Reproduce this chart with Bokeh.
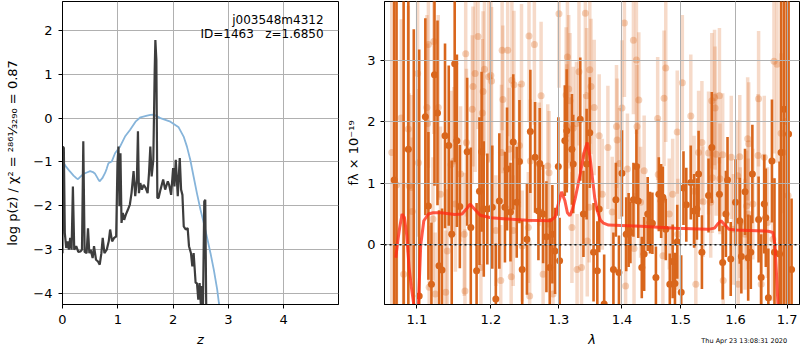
import numpy as np
from bokeh.plotting import figure
from bokeh.layouts import row
from bokeh.models import (Range1d, FixedTicker, PrintfTickFormatter, Label,
                          ColumnDataSource, Span)
from bokeh.core.properties import value
from bokeh.embed import file_html
from bokeh.resources import INLINE

FONT = "DejaVu Sans"

# ---------------- left panel data: log p(z) and scaled chi2 ----------------
pz_z = [0.000, 0.006, 0.024, 0.042, 0.067, 0.091, 0.115, 0.139, 0.164, 0.188,
        0.212, 0.248, 0.285, 0.327, 0.352, 0.376, 0.400, 0.436, 0.461, 0.485,
        0.509, 0.545, 0.570, 0.606, 0.642, 0.673, 0.703, 0.727, 0.758, 0.800,
        0.836, 0.861, 0.897, 0.933, 0.970, 0.994, 1.012, 1.030, 1.048, 1.067,
        1.091, 1.115, 1.145, 1.182, 1.218, 1.248, 1.285, 1.315, 1.345, 1.364,
        1.382, 1.406, 1.436, 1.467, 1.503, 1.539, 1.564, 1.588, 1.612, 1.642,
        1.667, 1.679, 1.697, 1.715, 1.737, 1.772, 1.820, 1.856, 1.904, 1.928,
        1.964, 2.000, 2.024, 2.048, 2.084, 2.120, 2.144, 2.168, 2.192, 2.228,
        2.263, 2.287, 2.323, 2.347, 2.371, 2.407, 2.431, 2.455, 2.479, 2.503,
        2.521, 2.539, 2.563, 2.581, 2.599, 2.623, 2.700, 3.000]
pz_logp = [-3.08, -0.65, -0.68, -2.62, -2.96, -2.81, -3.00, -2.73, -3.00, -1.56,
           -3.00, -2.92, -3.05, -3.04, -3.00, -0.53, -3.05, -3.08, -2.51, -3.08,
           -3.00, -3.19, -2.92, -3.23, -3.27, -3.34, -3.08, -2.73, -3.08, -3.00,
           -2.81, -2.54, -2.81, -2.73, -2.70, -1.03, -0.65, -2.01, -0.80, -2.39,
           -2.16, -2.32, -2.20, -2.09, -1.97, -1.71, -1.21, -1.78, -1.40, -0.30,
           -1.71, -1.48, -1.63, -1.52, -1.59, -1.71, -1.25, -0.65, -1.33, -0.95,
           1.10, 1.78, 1.33, -1.82, -1.82, -1.63, -1.40, -1.63, -1.44, -1.52,
           -1.75, -1.14, -1.56, -0.95, -1.78, -0.91, -1.63, -1.75, -2.47, -2.54,
           -2.51, -2.92, -3.08, -3.38, -3.08, -3.76, -3.76, -4.14, -3.76, -4.29,
           -3.83, -4.37, -1.90, -1.86, -4.37, -4.97, -6.00, -9.00]

chi_z = [0.00, 0.06, 0.13, 0.20, 0.25, 0.28, 0.33, 0.38, 0.44, 0.50,
         0.55, 0.59, 0.64, 0.67, 0.72, 0.77, 0.80, 0.83, 0.89, 0.95,
         1.04, 1.13, 1.22, 1.32, 1.41, 1.53, 1.59, 1.65, 1.77, 1.95,
         2.10, 2.19, 2.25, 2.31, 2.37, 2.43, 2.495, 2.555, 2.615, 2.676,
         2.736, 2.797, 2.827, 3.00]
chi_val = [-0.99, -1.10, -1.21, -1.31, -1.37, -1.39, -1.33, -1.27, -1.24, -1.21,
           -1.23, -1.27, -1.38, -1.44, -1.37, -1.25, -1.15, -1.03, -0.99, -0.80,
           -0.65, -0.42, -0.27, -0.08, 0.02, 0.06, 0.075, 0.08, 0.00, -0.08,
           -0.21, -0.42, -0.65, -0.95, -1.33, -1.71, -2.09, -2.39, -2.73, -3.08,
           -3.46, -3.91, -4.21, -5.60]

left_xticks = [0, 1, 2, 3, 4]
left_yticks = [-4, -3, -2, -1, 0, 1, 2]
obj_name = "j003548m4312"
obj_info = "ID=1463\u00a0\u00a0\u00a0z=1.6850"
left_ylabel = "log p(z) / \u03c7\u00b2 = \u00b2\u2078\u2076\u00b9\u2044\u2083\u2082\u2089\u2080 = 0.87"

# ---------------- right panel data: spectrum ----------------
dark_lam = [1.071, 1.074, 1.083, 1.089, 1.096, 1.103, 1.111, 1.115, 1.119, 1.123,
            1.127, 1.129, 1.133, 1.137, 1.142, 1.146, 1.150, 1.153, 1.157, 1.167,
            1.172, 1.180, 1.184, 1.187, 1.190, 1.195, 1.202, 1.207, 1.212, 1.220,
            1.223, 1.228, 1.232, 1.237, 1.241, 1.245, 1.252, 1.257, 1.264, 1.269,
            1.271, 1.276, 1.281, 1.286, 1.290, 1.294, 1.299, 1.301, 1.309, 1.312,
            1.320, 1.322, 1.333, 1.338, 1.343, 1.348, 1.354, 1.360, 1.363, 1.371,
            1.386, 1.390, 1.395, 1.400, 1.407, 1.411, 1.414, 1.419, 1.424, 1.427,
            1.433, 1.437, 1.443, 1.447, 1.451, 1.457, 1.462, 1.466, 1.469, 1.474,
            1.481, 1.486, 1.490, 1.494, 1.501, 1.505, 1.510, 1.518, 1.524, 1.529,
            1.532, 1.538, 1.550, 1.556, 1.570, 1.576, 1.582, 1.585, 1.591, 1.600,
            1.608, 1.611, 1.618, 1.624, 1.629, 1.632, 1.644, 1.649, 1.655, 1.658,
            1.663, 1.670, 1.675, 1.685, 1.688, 1.694, 1.700, 1.703, 1.709]
dark_flux = [1.05, -1.30, 4.30, 1.55, -1.50, -0.83, 2.08, 0.63, -0.64, 2.76,
             2.14, -0.34, -0.41, 1.77, 1.61, 0.17, 2.94, 1.69, 0.62, 1.51,
             0.28, -0.42, 0.87, 1.51, 0.58, 0.58, 0.61, -0.88, 0.71, 0.61,
             1.23, 0.53, 1.67, 0.69, 1.35, -0.40, 0.09, 1.84, 1.42, 0.55,
             1.32, 0.50, 0.13, -0.37, 0.17, -0.10, 1.27, -0.26, 1.69, 1.85,
             1.55, 1.31, 2.04, 0.50, 1.31, 1.82, -0.12, -0.42, 0.58, -0.96,
             -0.40, 0.73, -0.45, 1.16, 0.17, 0.24, 0.20, 0.73, 1.27, 0.71,
             -0.37, -0.15, 0.50, 0.36, 0.35, -0.53, 0.82, 0.71, 0.77, 0.25,
             -0.64, -0.27, -0.63, 0.05, -0.77, 0.92, 0.65, 1.01, 0.55, 0.58,
             1.15, -0.12, 0.80, 1.58, 0.82, -0.29, 0.50, 1.05, -0.23, 0.69,
             0.39, -0.19, 0.86, -0.21, -0.12, 1.15, 0.41, -0.53, 0.66, 0.44,
             -0.86, 1.36, -0.12, -0.15, 1.50, 2.20, -1.20, 1.80, -0.40]
dark_err = [5.0, 5.5, 5.5, 4.0, 5.0, 4.0, 1.6, 1.2, 1.0, 1.8,
            1.5, 0.9, 1.0, 1.5, 1.3, 1.2, 1.6, 1.4, 1.0, 1.2,
            1.3, 1.1, 1.2, 1.3, 1.1, 0.9, 1.0, 0.9, 1.1, 0.9,
            1.0, 0.8, 1.1, 0.9, 1.0, 0.8, 0.9, 1.0, 0.9, 0.8,
            0.9, 0.8, 0.9, 0.8, 0.8, 0.7, 0.8, 0.7, 0.9, 1.0,
            0.9, 0.8, 1.0, 0.7, 0.9, 0.9, 0.8, 0.8, 0.7, 0.8,
            0.6, 0.6, 0.6, 0.7, 0.6, 0.6, 0.5, 0.6, 0.6, 0.6,
            0.5, 0.6, 0.6, 0.5, 0.5, 0.5, 0.6, 0.6, 0.5, 0.5,
            0.5, 0.6, 0.5, 0.6, 0.6, 0.6, 0.6, 0.6, 0.6, 0.5,
            0.7, 0.6, 0.6, 0.9, 0.6, 0.6, 0.7, 0.7, 0.6, 0.7,
            0.7, 0.6, 0.7, 0.7, 0.6, 0.8, 0.7, 0.7, 0.8, 0.8,
            0.8, 1.0, 1.2, 1.5, 4.0, 4.0, 5.5, 4.5, 1.15]

light_lam = [1.068, 1.074, 1.080, 1.083, 1.089, 1.090, 1.093, 1.094, 1.101, 1.102,
             1.113, 1.114, 1.115, 1.116, 1.121, 1.122, 1.124, 1.128, 1.131, 1.138,
             1.140, 1.145, 1.149, 1.151, 1.158, 1.163, 1.164, 1.165, 1.166, 1.174,
             1.175, 1.178, 1.182, 1.186, 1.188, 1.189, 1.191, 1.197, 1.200, 1.201,
             1.207, 1.214, 1.215, 1.216, 1.217, 1.224, 1.226, 1.229, 1.230, 1.232,
             1.233, 1.241, 1.244, 1.245, 1.254, 1.255, 1.256, 1.257, 1.263, 1.270,
             1.273, 1.276, 1.283, 1.285, 1.291, 1.300, 1.311, 1.312, 1.313, 1.315,
             1.317, 1.320, 1.322, 1.327, 1.328, 1.331, 1.335, 1.340, 1.341, 1.343,
             1.344, 1.347, 1.348, 1.350, 1.355, 1.363, 1.368, 1.377, 1.384, 1.391,
             1.392, 1.396, 1.400, 1.404, 1.406, 1.409, 1.419, 1.420, 1.424, 1.425,
             1.428, 1.431, 1.437, 1.460, 1.461, 1.469, 1.471, 1.474, 1.480, 1.486,
             1.494, 1.495, 1.503, 1.518, 1.524, 1.527, 1.532, 1.538, 1.540, 1.550,
             1.554, 1.556, 1.557, 1.561, 1.562, 1.564, 1.570, 1.571, 1.576, 1.577,
             1.592, 1.596, 1.604, 1.605, 1.608, 1.609, 1.618, 1.621, 1.623, 1.624,
             1.625, 1.633, 1.643, 1.644, 1.649, 1.655, 1.661, 1.672, 1.674, 1.680,
             1.688, 1.692, 1.697, 1.702]
light_flux = [1.50, 0.97, 2.06, -0.48, 1.88, 0.96, 0.93, 0.54, 2.78, 1.33,
              2.23, 1.97, 3.25, -0.69, 0.42, 3.30, -0.80, 2.23, 0.82, -0.77,
              -0.10, 1.30, 1.36, 0.66, 1.15, 0.17, -0.75, 3.10, 1.66, 2.20,
              2.57, 2.78, 3.38, -0.37, 2.14, 2.49, 2.85, 2.73, 2.75, 2.66,
              0.23, -0.58, 1.50, 3.16, 2.36, 3.16, 1.55, -0.52, 2.67, 0.23,
              2.60, 1.61, 2.61, -0.02, 0.28, 3.39, -0.83, 1.36, 3.25, 1.31,
              2.42, -0.48, 1.28, 1.17, -0.80, 3.75, 2.43, 1.93, 3.05, 2.53,
              2.34, 0.28, 1.89, 1.97, -0.40, 2.81, -0.37, 1.45, 3.76, 2.42,
              0.06, 0.61, 2.84, 2.57, 2.23, 1.77, 0.82, 1.58, 0.53, 1.92,
              1.70, 1.32, 2.22, 3.60, -0.67, 1.23, 3.32, -0.06, 3.00, 1.92,
              2.35, 0.69, 1.20, 2.05, 1.14, -0.18, 2.38, 2.87, 0.50, 0.82,
              1.83, 0.17, 2.63, 2.09, 0.87, -0.64, 1.50, 1.66, 0.70, 1.49,
              0.69, 2.34, 1.09, 2.39, 2.22, 1.47, 2.42, 1.07, 1.46, -0.58,
              1.42, 0.25, 1.12, -0.64, 1.43, 0.36, 0.17, 0.63, 1.72, 0.50,
              1.64, 0.66, 1.45, 2.37, -0.64, 1.42, 0.36, 0.09, 2.98, 2.93,
              1.81, 1.50, 2.00, 0.80]
light_err = [3.5, 2.0, 1.6, 1.5, 2.0, 1.5, 1.5, 1.2, 1.8, 1.2,
             1.5, 1.3, 2.0, 1.0, 1.0, 1.5, 1.0, 1.5, 1.1, 1.0,
             1.0, 1.2, 1.2, 1.1, 1.1, 1.0, 1.0, 1.5, 1.2, 1.2,
             1.3, 1.6, 1.5, 1.0, 1.2, 1.3, 1.4, 1.4, 1.4, 1.2,
             0.9, 0.9, 1.1, 1.3, 1.2, 1.4, 1.0, 0.9, 1.3, 0.9,
             1.2, 1.0, 1.3, 0.9, 0.9, 1.4, 0.9, 1.0, 1.3, 1.0,
             1.2, 0.9, 1.0, 1.0, 0.9, 1.2, 1.1, 1.0, 1.3, 1.2,
             1.1, 0.9, 1.0, 1.0, 0.9, 1.2, 0.9, 1.0, 1.3, 1.1,
             0.9, 0.9, 1.2, 1.1, 1.1, 1.0, 0.9, 1.0, 0.9, 1.0,
             1.0, 0.9, 1.1, 1.2, 0.9, 0.9, 1.2, 0.9, 1.2, 1.0,
             1.1, 0.9, 0.9, 1.0, 0.9, 0.9, 1.1, 1.2, 0.9, 0.9,
             1.0, 0.9, 1.1, 1.0, 0.9, 0.9, 1.0, 1.0, 0.9, 1.0,
             0.9, 1.1, 0.9, 1.1, 1.0, 1.0, 1.1, 0.9, 1.0, 0.9,
             1.0, 0.9, 0.9, 0.9, 1.0, 0.9, 0.9, 0.9, 1.0, 0.9,
             1.0, 0.9, 1.0, 1.1, 0.9, 1.0, 0.9, 1.0, 1.5, 1.6,
             1.3, 3.5, 3.0, 4.0]

model_lam = [1.073, 1.076, 1.078, 1.081, 1.084, 1.087, 1.090, 1.093, 1.096, 1.099,
             1.102, 1.105, 1.109, 1.115, 1.121, 1.132, 1.150, 1.160, 1.166, 1.171,
             1.177, 1.185, 1.200, 1.223, 1.252, 1.287, 1.294, 1.300, 1.304, 1.309,
             1.313, 1.317, 1.321, 1.325, 1.333, 1.339, 1.344, 1.348, 1.352, 1.356,
             1.360, 1.365, 1.370, 1.378, 1.431, 1.491, 1.549, 1.561, 1.567, 1.573,
             1.580, 1.588, 1.600, 1.663, 1.672, 1.676, 1.680, 1.683, 1.687]
model_flux = [-0.21, 0.10, 0.28, 0.50, 0.44, 0.15, -0.37, -0.70, -0.97, -2.00,
              -0.97, 0.00, 0.39, 0.50, 0.52, 0.52, 0.49, 0.50, 0.58, 0.66,
              0.58, 0.48, 0.44, 0.42, 0.40, 0.39, 0.45, 0.70, 0.86, 0.72,
              0.52, 0.47, 0.58, 0.75, 1.15, 1.50, 1.66, 1.45, 1.10, 0.75,
              0.55, 0.40, 0.35, 0.32, 0.30, 0.27, 0.25, 0.27, 0.34, 0.39,
              0.32, 0.25, 0.24, 0.22, 0.20, 0.00, -0.64, -1.20, -2.50]

right_xticks = [1.1, 1.2, 1.3, 1.4, 1.5, 1.6, 1.7]
right_yticks = [0, 1, 2, 3]
timestamp = ["Thu Apr 23 13:08:31 2020"]
timestamp_x = [1.7]
timestamp_y = [-1.555]

ORANGE = "#d9661c"
GRID = "#b0b0b0"
H = 350


def style(p):
    p.outline_line_color = "black"
    p.outline_line_width = 1
    p.background_fill_color = "white"
    p.border_fill_color = "white"
    for ax in p.axis:
        ax.axis_line_color = "black"
        ax.major_tick_out = 4
        ax.major_tick_in = 0
        ax.minor_tick_out = 0
        ax.minor_tick_in = 0
        ax.major_tick_line_color = "black"
        ax.major_label_text_font = FONT
        ax.major_label_text_font_size = "13px"
        ax.major_label_text_color = "black"
        ax.axis_label_text_font = FONT
        ax.axis_label_text_font_size = "13px"
        ax.axis_label_text_color = "black"
    for g in p.grid:
        g.grid_line_color = GRID
        g.grid_line_width = 1


# ---------------- left figure ----------------
p1 = figure(width=340, height=H, x_range=Range1d(0, 4.99), y_range=Range1d(-4.25, 2.66),
            output_backend="svg", toolbar_location=None,
            min_border_left=62, min_border_right=2, min_border_top=1, min_border_bottom=46)
p1.line(chi_z, chi_val, line_color="#86b4da", line_width=1.8)
p1.line(pz_z, pz_logp, line_color="#3d3d3d", line_width=2.2)
p1.xaxis.ticker = FixedTicker(ticks=left_xticks)
p1.xgrid.ticker = FixedTicker(ticks=left_xticks)
p1.yaxis.ticker = FixedTicker(ticks=left_yticks)
p1.ygrid.ticker = FixedTicker(ticks=left_yticks)
p1.yaxis.major_label_overrides = {t: ("\u2212" + str(-t) if t < 0 else str(t)) for t in left_yticks}
p1.xaxis.axis_label = "z"
p1.xaxis.axis_label_text_font_style = "italic"
p1.yaxis.axis_label = left_ylabel
p1.yaxis.axis_label_text_font_style = "normal"
style(p1)
p1.xaxis.major_label_standoff = 6
p1.xaxis.axis_label_standoff = 5
p1.yaxis.major_label_standoff = 6
p1.yaxis.axis_label_standoff = 10
p1.add_layout(Label(x=4.72, y=2.227, text=obj_name, text_align="right", text_baseline="middle",
                    text_font=FONT, text_font_size="12px", text_color="black"))
p1.add_layout(Label(x=4.72, y=1.908, text=obj_info, text_align="right", text_baseline="middle",
                    text_font=FONT, text_font_size="12px", text_color="black"))

# ---------------- right figure ----------------
p2 = figure(width=460, height=H, x_axis_type="log", x_range=Range1d(1.0589, 1.725),
            y_range=Range1d(-0.97, 3.95), output_backend="svg", toolbar_location=None,
            min_border_left=44, min_border_right=1, min_border_top=1, min_border_bottom=46)

la = np.array(light_lam); lf = np.array(light_flux); le = np.array(light_err)
da = np.array(dark_lam); df = np.array(dark_flux); de = np.array(dark_err)
src_l = ColumnDataSource(dict(lam=la, flux=lf, lo=lf - le, hi=lf + le))
src_d = ColumnDataSource(dict(lam=da, flux=df, lo=df - de, hi=df + de))

p2.segment(x0="lam", y0="lo", x1="lam", y1="hi", source=src_l, line_color=ORANGE,
           line_alpha=0.24, line_width=3.5)
p2.scatter("lam", "flux", source=src_l, size=7, fill_color=ORANGE, fill_alpha=0.3,
           line_color=None)
p2.segment(x0="lam", y0="lo", x1="lam", y1="hi", source=src_d, line_color=ORANGE,
           line_alpha=1.0, line_width=2.6)
p2.scatter("lam", "flux", source=src_d, size=7, fill_color=ORANGE, fill_alpha=1.0,
           line_color=None)
p2.line(model_lam, model_flux, line_color="#ff2a14", line_alpha=0.78, line_width=3)
p2.add_layout(Span(location=0, dimension="width", line_color="#111111", line_width=1.7,
                   line_dash="2 3", level="overlay"))

p2.xaxis.ticker = FixedTicker(ticks=right_xticks)
p2.xgrid.ticker = FixedTicker(ticks=right_xticks)
p2.xaxis.formatter = PrintfTickFormatter(format="%.1f")
p2.yaxis.ticker = FixedTicker(ticks=right_yticks)
p2.ygrid.ticker = FixedTicker(ticks=right_yticks)
p2.xaxis.axis_label = "\u03bb"
p2.xaxis.axis_label_text_font_style = "italic"
p2.yaxis.axis_label = "f\u03bb \u00d7 10\u207b\u00b9\u2079"
p2.yaxis.axis_label_text_font_style = "normal"
style(p2)
p2.xaxis.major_label_standoff = 6
p2.xaxis.axis_label_standoff = 5
p2.yaxis.major_label_standoff = 5
p2.yaxis.axis_label_standoff = 3
p2.xgrid.level = "guide"
p2.ygrid.level = "guide"
ts = p2.text(x=timestamp_x, y=timestamp_y, text=timestamp, text_align="right",
             text_baseline="middle", text_font=value(FONT), text_font_size="6.5px",
             text_color="black")
ts.level = "overlay"

layout = row(p1, p2)
open("out.html", "w").write(file_html(layout, INLINE))
